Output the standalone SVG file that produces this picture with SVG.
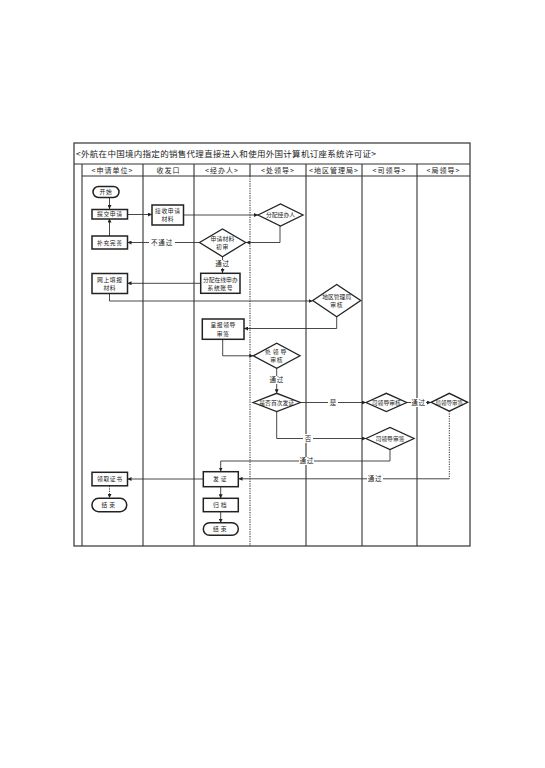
<svg xmlns="http://www.w3.org/2000/svg" width="545" height="768" viewBox="0 0 545 768">
<defs>
<marker id="ah" viewBox="0 0 6 6" refX="6" refY="3" markerWidth="4" markerHeight="4" orient="auto" markerUnits="userSpaceOnUse">
<path d="M0,0 L6,3 L0,6 z" fill="#222"/>
</marker>
<style>
text{font-family:"Noto Sans CJK SC","Noto Sans",sans-serif;fill:#222;}
.title{font-size:8.5px;}
.hdr{font-size:7px;text-anchor:middle;letter-spacing:1px;}
.nt{font-size:5.8px;text-anchor:middle;letter-spacing:0.6px;}
.lb{font-size:6.5px;text-anchor:middle;letter-spacing:0.8px;}
.frame{fill:none;stroke:#333;stroke-width:1.2;}
.lane{stroke:#333;stroke-width:1.1;}
.dot{stroke:#333;stroke-width:1.1;stroke-dasharray:1.2 1.2;}
.box{fill:#fff;stroke:#222;stroke-width:1.5;}
.dia{fill:#fff;stroke:#222;stroke-width:1.3;}
.ln{fill:none;stroke:#333;stroke-width:0.9;}
.dl{fill:none;stroke:#333;stroke-width:1;stroke-dasharray:1.2 1.2;}
.bg{fill:#fff;}
</style>
</defs>
<rect width="545" height="768" fill="#fff"/>

<g id="frame">
<rect class="frame" x="74" y="143" width="396" height="403"/>
<line class="lane" x1="74" y1="164" x2="470" y2="164"/>
<line class="lane" x1="82" y1="176" x2="470" y2="176"/>
<line class="lane" x1="82" y1="164" x2="82" y2="546"/>
<line class="lane" x1="143" y1="164" x2="143" y2="546"/>
<line class="lane" x1="194" y1="164" x2="194" y2="546"/>
<line class="lane" x1="250" y1="164" x2="250" y2="176"/>
<line class="dot" x1="250" y1="176" x2="250" y2="546"/>
<line class="lane" x1="306" y1="164" x2="306" y2="546"/>
<line class="lane" x1="362" y1="164" x2="362" y2="546"/>
<line class="lane" x1="417" y1="164" x2="417" y2="546"/>
<text class="title" x="76" y="157" textLength="300" lengthAdjust="spacing">&lt;外航在中国境内指定的销售代理直接进入和使用外国计算机订座系统许可证&gt;</text>
<text class="hdr" x="112.5" y="172.8">&lt;申请单位&gt;</text>
<text class="hdr" x="168.5" y="172.8">收发口</text>
<text class="hdr" x="222" y="172.8">&lt;经办人&gt;</text>
<text class="hdr" x="278" y="172.8">&lt;处领导&gt;</text>
<text class="hdr" x="334" y="172.8">&lt;地区管理局&gt;</text>
<text class="hdr" x="389.5" y="172.8">&lt;司领导&gt;</text>
<text class="hdr" x="443.5" y="172.8">&lt;局领导&gt;</text>
</g>

<g id="connectors">
<line class="ln" x1="109.5" y1="197.5" x2="109.5" y2="209" marker-end="url(#ah)"/>
<line class="ln" x1="127.5" y1="214.5" x2="152" y2="214.5" marker-end="url(#ah)"/>
<line class="ln" x1="183.5" y1="215" x2="258" y2="215" marker-end="url(#ah)"/>
<path class="ln" d="M280,226 V242.5 H246" marker-end="url(#ah)"/>
<line class="ln" x1="199.5" y1="242.5" x2="127.5" y2="242.5" marker-end="url(#ah)"/>
<line class="ln" x1="109.5" y1="236" x2="109.5" y2="218.5" marker-end="url(#ah)"/>
<line class="ln" x1="222.5" y1="257" x2="222.5" y2="273" marker-end="url(#ah)"/>
<line class="ln" x1="200.5" y1="283.3" x2="127.5" y2="283.3" marker-end="url(#ah)"/>
<path class="ln" d="M109.5,293.5 V301 H312.5" marker-end="url(#ah)"/>
<path class="ln" d="M336.7,316.7 V328.5 H244" marker-end="url(#ah)"/>
<path class="ln" d="M222.7,339.3 V355.8 H253.3" marker-end="url(#ah)"/>
<line class="ln" x1="276.7" y1="368.3" x2="276.7" y2="393.3" marker-end="url(#ah)"/>
<line class="ln" x1="300.2" y1="402.5" x2="366" y2="402.5" marker-end="url(#ah)"/>
<line class="ln" x1="406.7" y1="402.5" x2="431" y2="402.5" marker-end="url(#ah)"/>
<path class="ln" d="M276.7,411.5 V438.5 H366" marker-end="url(#ah)"/>
<path class="ln" d="M390,449.5 V461 H220.7 V471.5" marker-end="url(#ah)"/>
<path class="dl" d="M449.3,411 V478.8"/>
<path class="ln" d="M449.3,478.8 H238.5" marker-end="url(#ah)"/>
<line class="ln" x1="203.3" y1="479" x2="127.5" y2="479" marker-end="url(#ah)"/>
<line class="dl" x1="109.5" y1="486" x2="109.5" y2="498" marker-end="url(#ah)"/>
<line class="ln" x1="220.7" y1="486.7" x2="220.7" y2="498.3" marker-end="url(#ah)"/>
<line class="ln" x1="220.7" y1="511.7" x2="220.7" y2="522.7" marker-end="url(#ah)"/>
<rect class="bg" x="149" y="238" width="26" height="9"/>
<text class="lb" x="162" y="244.8">不通过</text>
<rect class="bg" x="215" y="260" width="15" height="8"/>
<text class="lb" x="222.5" y="266.2">通过</text>
<rect class="bg" x="269" y="376" width="15" height="8"/>
<text class="lb" x="276.7" y="382.3">通过</text>
<rect class="bg" x="328" y="398" width="10" height="9"/>
<text class="lb" x="333.3" y="404.8">是</text>
<rect class="bg" x="411" y="398" width="15" height="9"/>
<text class="lb" x="418.5" y="404.8">通过</text>
<rect class="bg" x="303" y="434" width="10" height="9"/>
<text class="lb" x="308.3" y="440.8">否</text>
<rect class="bg" x="299" y="457" width="15" height="8"/>
<text class="lb" x="306.7" y="463.3">通过</text>
<rect class="bg" x="367" y="475" width="16" height="8"/>
<text class="lb" x="375" y="481.2">通过</text>
</g>

<g id="start">
<rect class="box" x="93" y="186.5" width="26" height="11" rx="5.5"/>
<text class="nt" x="106" y="194.2">开始</text>
</g>
<g id="submit">
<rect class="box" x="92" y="209.5" width="35.5" height="9.5"/>
<text class="nt" x="109.8" y="216.4">提交申请</text>
</g>
<g id="supplement">
<rect class="box" x="92" y="236" width="35.5" height="13"/>
<text class="nt" x="109.8" y="244.6">补充完善</text>
</g>
<g id="online-fill">
<rect class="box" x="92" y="273.5" width="35.5" height="20"/>
<text class="nt" x="109.8" y="281.8">网上填报</text>
<text class="nt" x="109.8" y="290">材料</text>
</g>
<g id="receive">
<rect class="box" x="152" y="205" width="31.5" height="20"/>
<text class="nt" x="167.8" y="213.2">接收申请</text>
<text class="nt" x="167.8" y="221.4">材料</text>
</g>
<g id="assign-handler">
<polygon class="dia" points="258,215 280.5,204 303,215 280.5,226"/>
<text class="nt" x="280.5" y="217.2" style="letter-spacing:0">分配经办人</text>
</g>
<g id="initial-review">
<polygon class="dia" points="199.5,242.5 222.5,229 245.7,242.5 222.5,256.7"/>
<text class="nt" x="222.5" y="241" style="letter-spacing:0.2px">申请材料</text>
<text class="nt" x="222.5" y="249">初审</text>
</g>
<g id="assign-account">
<rect class="box" x="200.7" y="273.3" width="39.3" height="20"/>
<text class="nt" x="220.3" y="281.5" style="letter-spacing:0">分配在线申办</text>
<text class="nt" x="220.3" y="289.7">系统账号</text>
</g>
<g id="regional-review">
<polygon class="dia" points="312.7,300.5 336.7,284.5 360.7,300.5 336.7,316.7"/>
<text class="nt" x="336.7" y="299" style="letter-spacing:0">地区管理局</text>
<text class="nt" x="336.7" y="307">审核</text>
</g>
<g id="submit-leader">
<rect class="box" x="202.3" y="319" width="41.7" height="20.3"/>
<text class="nt" x="223.2" y="327.3">呈报领导</text>
<text class="nt" x="223.2" y="335.5">审签</text>
</g>
<g id="division-review">
<polygon class="dia" points="253.3,355.8 276.7,343.3 300,355.8 276.7,368.3"/>
<text class="nt" x="276.7" y="354" style="letter-spacing:2px">处领导</text>
<text class="nt" x="276.7" y="362.3">审核</text>
</g>
<g id="first-issue">
<polygon class="dia" points="253,402.5 276.7,393.3 300.3,402.5 276.7,411.5"/>
<text class="nt" x="276.7" y="404.7" style="letter-spacing:0">是否首次发证</text>
</g>
<g id="dept-review">
<polygon class="dia" points="366,402.5 386.3,393.3 406.7,402.5 386.3,411.5"/>
<text class="nt" x="386.3" y="404.7" style="letter-spacing:0">司领导审核</text>
</g>
<g id="bureau-sign">
<polygon class="dia" points="431,402.3 449.3,393.3 467.7,402.3 449.3,411.2"/>
<text class="nt" x="449.3" y="404.5" style="letter-spacing:0;font-size:5.5px">局领导审签</text>
</g>
<g id="dept-sign">
<polygon class="dia" points="366,438.5 390,427.5 414,438.5 390,449.5"/>
<text class="nt" x="390" y="440.7" style="letter-spacing:0">司领导审签</text>
</g>
<g id="receive-cert">
<rect class="box" x="92" y="472.3" width="35.5" height="13.5"/>
<text class="nt" x="109.8" y="481">领取证书</text>
</g>
<g id="end-applicant">
<rect class="box" x="92" y="498.3" width="34.7" height="13.4" rx="6.5"/>
<text class="nt" x="109.3" y="507" style="letter-spacing:2px">结束</text>
</g>
<g id="issue">
<rect class="box" x="203.3" y="471.7" width="35" height="15"/>
<text class="nt" x="220.8" y="481.2" style="letter-spacing:2px">发证</text>
</g>
<g id="archive">
<rect class="box" x="203.3" y="498.3" width="35" height="13.4"/>
<text class="nt" x="220.8" y="507" style="letter-spacing:2px">归档</text>
</g>
<g id="end-handler">
<rect class="box" x="203.3" y="522.7" width="35" height="12.6" rx="6.3"/>
<text class="nt" x="220.8" y="531" style="letter-spacing:2px">结束</text>
</g>
</svg>
